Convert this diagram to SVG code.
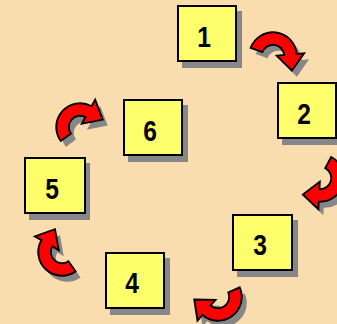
<svg xmlns="http://www.w3.org/2000/svg" width="337" height="324" viewBox="0 0 337 324">
<style>
.box{fill:#FFFF6B;stroke:#000;stroke-width:2}
.sh{fill:#878787}
.lbl{font-family:"Liberation Sans",Arial,sans-serif;font-weight:bold;font-size:30px;fill:#000;text-anchor:middle}
.arr{fill:#FF0000;stroke:#000;stroke-width:1.5;stroke-linejoin:miter}
.ash{fill:#878787}
</style>
<defs>
<path id="carrow" d="M -18.71 -3.30 A 19 19 0 0 1 18.35 -4.92 L 24.15 -6.47 L 16.89 8.94 L 2.90 -0.78 L 8.69 -2.33 A 9 9 0 0 0 -8.86 -1.56 Z"/>
</defs>
<rect x="0" y="0" width="337" height="324" fill="#FADDAE"/>
<g id="connectors">
<g transform="translate(278,62)"><use href="#carrow" class="ash" transform="rotate(10) scale(1.25)"/></g>
<g transform="translate(273,56)"><use href="#carrow" class="arr" transform="rotate(10) scale(1.25)"/></g>
<g transform="translate(325,184)"><use href="#carrow" class="ash" transform="rotate(108) scale(1.25)"/></g>
<g transform="translate(320,178)"><use href="#carrow" class="arr" transform="rotate(108) scale(1.25)"/></g>
<g transform="translate(223,303)"><use href="#carrow" class="ash" transform="rotate(146) scale(1.25)"/></g>
<g transform="translate(218,297)"><use href="#carrow" class="arr" transform="rotate(146) scale(1.25)"/></g>
<g transform="translate(67,258)"><use href="#carrow" class="ash" transform="rotate(225) scale(1.25)"/></g>
<g transform="translate(62,252)"><use href="#carrow" class="arr" transform="rotate(225) scale(1.25)"/></g>
<g transform="translate(85,133)"><use href="#carrow" class="ash" transform="rotate(-46) scale(1.25)"/></g>
<g transform="translate(80,127)"><use href="#carrow" class="arr" transform="rotate(-46) scale(1.25)"/></g>
</g>
<g id="node1"><rect class="sh" x="182" y="11" width="60" height="57"/><rect class="box" x="178" y="6" width="58" height="55"/><text class="lbl" transform="translate(204,47) scale(0.82,1)">1</text></g>
<g id="node2"><rect class="sh" x="282" y="88" width="60" height="57"/><rect class="box" x="278" y="83" width="58" height="55"/><text class="lbl" transform="translate(304,124) scale(0.82,1)">2</text></g>
<g id="node3"><rect class="sh" x="237" y="220" width="61" height="57"/><rect class="box" x="233" y="215" width="59" height="55"/><text class="lbl" transform="translate(260,255) scale(0.82,1)">3</text></g>
<g id="node4"><rect class="sh" x="110" y="258" width="60" height="57"/><rect class="box" x="106" y="253" width="58" height="55"/><text class="lbl" transform="translate(132,293) scale(0.82,1)">4</text></g>
<g id="node5"><rect class="sh" x="29" y="163" width="61" height="57"/><rect class="box" x="25" y="158" width="60" height="55"/><text class="lbl" transform="translate(52,199) scale(0.82,1)">5</text></g>
<g id="node6"><rect class="sh" x="128" y="105" width="60" height="57"/><rect class="box" x="124" y="100" width="58" height="55"/><text class="lbl" transform="translate(150,141) scale(0.82,1)">6</text></g>
</svg>
